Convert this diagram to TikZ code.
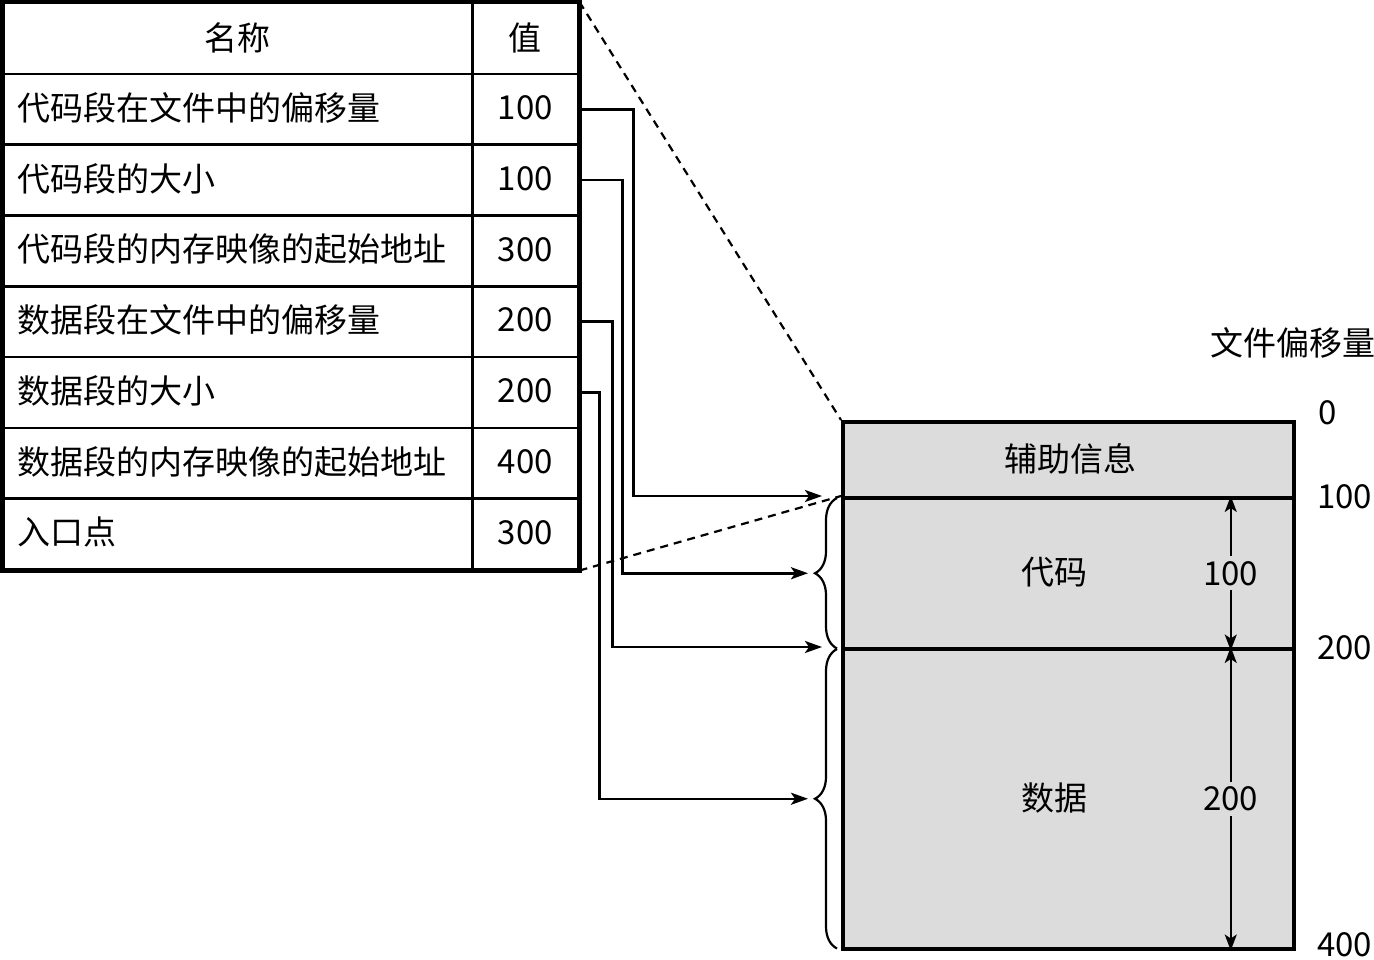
\documentclass[tikz,border=0pt]{standalone}
\usepackage{fontspec}
\setmainfont{Noto Sans CJK SC}
\usetikzlibrary{arrows.meta,decorations.pathreplacing}
\definecolor{boxgray}{RGB}{220,220,220}
\begin{document}
\begin{tikzpicture}[x=1pt,y=-1pt,
  every node/.style={font=\fontsize{33}{38}\selectfont, inner sep=0pt},
  namecell/.style={draw, line width=2.5pt, minimum width=469pt, minimum height=70.75pt, anchor=north west},
  valcell/.style={draw, line width=2.5pt, minimum width=106pt, minimum height=70.75pt, anchor=north west},
  conn/.style={line width=2.5pt, -{Stealth[length=17pt,width=12pt,inset=4pt]}},
  guide/.style={line width=2.2pt, dash pattern=on 8pt off 6pt},
  seg/.style={draw, line width=3.5pt, fill=boxgray, anchor=north west, minimum width=451pt},
  dim/.style={line width=2pt, {Stealth[length=16pt,width=12pt,inset=4pt]}-{Stealth[length=16pt,width=12pt,inset=4pt]}},
  brc/.style={line width=2.2pt, decorate, decoration={brace, amplitude=22pt}},
]
\useasboundingbox (0,0) rectangle (1374,960);
% table
\node[namecell] (n0) at (2,2) {};
\node[valcell] (v0) at (471,2) {};
\node (h0) at ([yshift=1pt]n0.center) {名称};
\node (h1) at ([yshift=1pt]v0.center) {值};
\foreach \i/\t/\v in {1/代码段在文件中的偏移量/100, 2/代码段的大小/100, 3/代码段的内存映像的起始地址/300, 4/数据段在文件中的偏移量/200, 5/数据段的大小/200, 6/数据段的内存映像的起始地址/400, 7/入口点/300}{
  \node[namecell] (n\i) at (2,{2+70.75*\i}) {};
  \node[valcell] (v\i) at (471,{2+70.75*\i}) {};
  \node[anchor=west] (t\i) at ([xshift=15pt,yshift=1.5pt]n\i.west) {\t};
  \node (w\i) at ([yshift=1.5pt]v\i.center) {\v};
}
\draw[line width=4pt] (n0.north west) rectangle (v7.south east);
% memory box
\node[seg, minimum height=76pt] (aux) at (841,420) {};
\node[seg, minimum height=151pt] (code) at (841,496) {};
\node[seg, minimum height=300pt] (data) at (841,647) {};
\node (auxt) at ([xshift=2pt,yshift=1pt]aux.center) {辅助信息};
\node (codet) at ([xshift=-14pt,yshift=1pt]code.center) {代码};
\node (datat) at ([xshift=-14pt,yshift=1pt]data.center) {数据};
% dimension arrows
\draw[dim] ([xshift=162.5pt]code.north) -- ([xshift=162.5pt]code.south) node[midway, fill=boxgray, inner xsep=2pt, inner ysep=5pt] (d1) {100};
\draw[dim] ([xshift=162.5pt]data.north) -- ([xshift=162.5pt]data.south) node[midway, fill=boxgray, inner xsep=2pt, inner ysep=5pt] (d2) {200};
% braces
\draw[brc] ([xshift=-4pt,yshift=2pt]code.south west) -- ([xshift=-4pt,yshift=-2pt]code.north west);
\draw[brc] ([xshift=-4pt,yshift=2pt]data.south west) -- ([xshift=-4pt,yshift=-2pt]data.north west);
% guides
\draw[guide] (v0.north east) -- (aux.north west);
\draw[guide] (v7.south east) -- (code.north west);
% connectors
\draw[conn] (v1.east) -- ++(54,0) |- ([xshift=-19pt]code.north west);
\draw[conn] (v2.east) -- ++(43,0) |- ([xshift=-33pt]code.west);
\draw[conn] (v4.east) -- ++(33,0) |- ([xshift=-19pt]data.north west);
\draw[conn] (v5.east) -- ++(20,0) |- ([xshift=-33pt]data.west);
% offsets
\node (offs) at (1293,343) {文件偏移量};
\node (o0) at (1328,413) {0};
\node[anchor=west] (o1) at (1317,497) {100};
\node[anchor=west] (o2) at (1317,648) {200};
\node[anchor=west] (o4) at (1317,945) {400};
\end{tikzpicture}
\end{document}
